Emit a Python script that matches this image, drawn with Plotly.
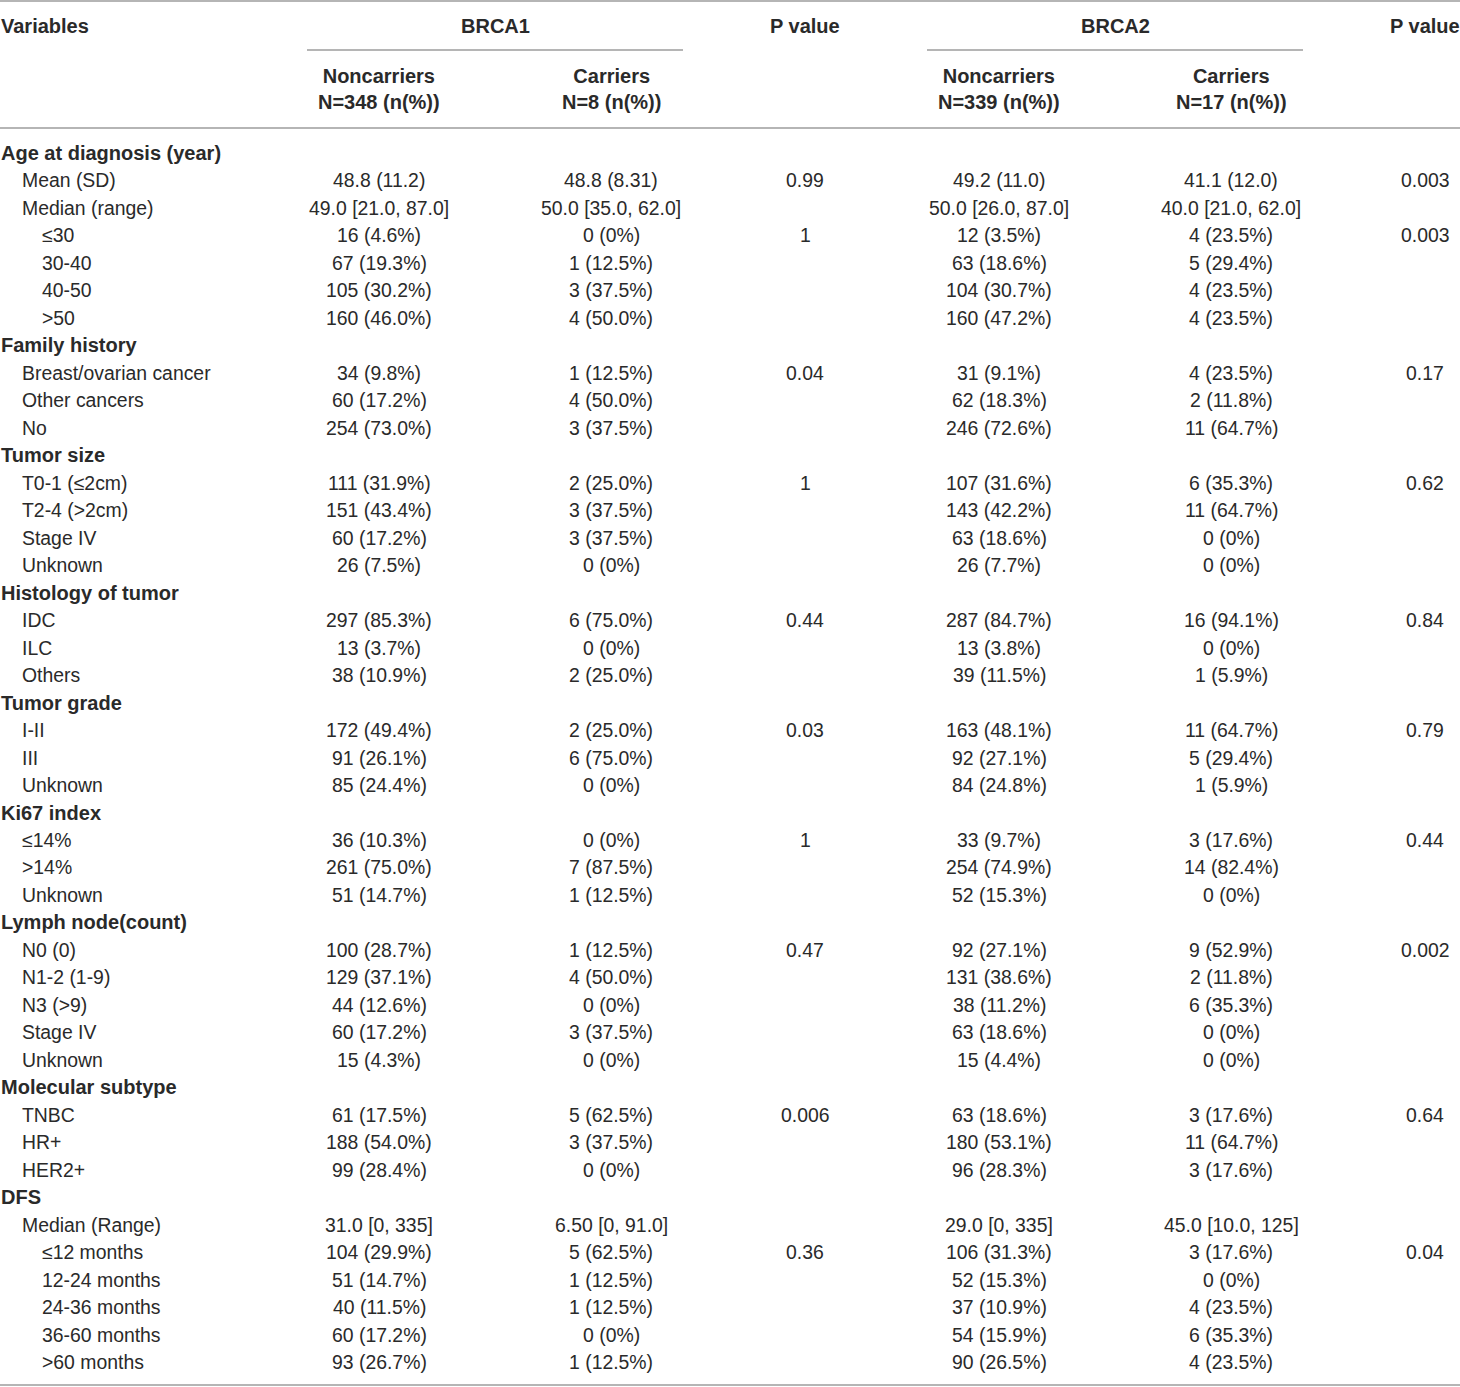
import plotly.graph_objects as go

# ---------------- data ----------------
header_groups = ["BRCA1", "BRCA2"]
col_headers = ["Noncarriers<br>N=348 (n(%))", "Carriers<br>N=8 (n(%))", "P value",
               "Noncarriers<br>N=339 (n(%))", "Carriers<br>N=17 (n(%))", "P value"]

labels = [
    "Age at diagnosis (year)", "Mean (SD)", "Median (range)", "≤30", "30-40", "40-50", ">50",
    "Family history", "Breast/ovarian cancer", "Other cancers", "No",
    "Tumor size", "T0-1 (≤2cm)", "T2-4 (>2cm)", "Stage IV", "Unknown",
    "Histology of tumor", "IDC", "ILC", "Others",
    "Tumor grade", "I-II", "III", "Unknown",
    "Ki67 index", "≤14%", ">14%", "Unknown",
    "Lymph node(count)", "N0 (0)", "N1-2 (1-9)", "N3 (>9)", "Stage IV", "Unknown",
    "Molecular subtype", "TNBC", "HR+", "HER2+",
    "DFS", "Median (Range)", "≤12 months", "12-24 months", "24-36 months", "36-60 months", ">60 months",
]
levels = [
    0, 1, 1, 2, 2, 2, 2,
    0, 1, 1, 1,
    0, 1, 1, 1, 1,
    0, 1, 1, 1,
    0, 1, 1, 1,
    0, 1, 1, 1,
    0, 1, 1, 1, 1, 1,
    0, 1, 1, 1,
    0, 1, 2, 2, 2, 2, 2,
]
brca1_non = [
    "", "48.8 (11.2)", "49.0 [21.0, 87.0]", "16 (4.6%)", "67 (19.3%)", "105 (30.2%)", "160 (46.0%)",
    "", "34 (9.8%)", "60 (17.2%)", "254 (73.0%)",
    "", "111 (31.9%)", "151 (43.4%)", "60 (17.2%)", "26 (7.5%)",
    "", "297 (85.3%)", "13 (3.7%)", "38 (10.9%)",
    "", "172 (49.4%)", "91 (26.1%)", "85 (24.4%)",
    "", "36 (10.3%)", "261 (75.0%)", "51 (14.7%)",
    "", "100 (28.7%)", "129 (37.1%)", "44 (12.6%)", "60 (17.2%)", "15 (4.3%)",
    "", "61 (17.5%)", "188 (54.0%)", "99 (28.4%)",
    "", "31.0 [0, 335]", "104 (29.9%)", "51 (14.7%)", "40 (11.5%)", "60 (17.2%)", "93 (26.7%)",
]
brca1_car = [
    "", "48.8 (8.31)", "50.0 [35.0, 62.0]", "0 (0%)", "1 (12.5%)", "3 (37.5%)", "4 (50.0%)",
    "", "1 (12.5%)", "4 (50.0%)", "3 (37.5%)",
    "", "2 (25.0%)", "3 (37.5%)", "3 (37.5%)", "0 (0%)",
    "", "6 (75.0%)", "0 (0%)", "2 (25.0%)",
    "", "2 (25.0%)", "6 (75.0%)", "0 (0%)",
    "", "0 (0%)", "7 (87.5%)", "1 (12.5%)",
    "", "1 (12.5%)", "4 (50.0%)", "0 (0%)", "3 (37.5%)", "0 (0%)",
    "", "5 (62.5%)", "3 (37.5%)", "0 (0%)",
    "", "6.50 [0, 91.0]", "5 (62.5%)", "1 (12.5%)", "1 (12.5%)", "0 (0%)", "1 (12.5%)",
]
p_brca1 = [
    "", "0.99", "", "1", "", "", "",
    "", "0.04", "", "",
    "", "1", "", "", "",
    "", "0.44", "", "",
    "", "0.03", "", "",
    "", "1", "", "",
    "", "0.47", "", "", "", "",
    "", "0.006", "", "",
    "", "", "0.36", "", "", "", "",
]
brca2_non = [
    "", "49.2 (11.0)", "50.0 [26.0, 87.0]", "12 (3.5%)", "63 (18.6%)", "104 (30.7%)", "160 (47.2%)",
    "", "31 (9.1%)", "62 (18.3%)", "246 (72.6%)",
    "", "107 (31.6%)", "143 (42.2%)", "63 (18.6%)", "26 (7.7%)",
    "", "287 (84.7%)", "13 (3.8%)", "39 (11.5%)",
    "", "163 (48.1%)", "92 (27.1%)", "84 (24.8%)",
    "", "33 (9.7%)", "254 (74.9%)", "52 (15.3%)",
    "", "92 (27.1%)", "131 (38.6%)", "38 (11.2%)", "63 (18.6%)", "15 (4.4%)",
    "", "63 (18.6%)", "180 (53.1%)", "96 (28.3%)",
    "", "29.0 [0, 335]", "106 (31.3%)", "52 (15.3%)", "37 (10.9%)", "54 (15.9%)", "90 (26.5%)",
]
brca2_car = [
    "", "41.1 (12.0)", "40.0 [21.0, 62.0]", "4 (23.5%)", "5 (29.4%)", "4 (23.5%)", "4 (23.5%)",
    "", "4 (23.5%)", "2 (11.8%)", "11 (64.7%)",
    "", "6 (35.3%)", "11 (64.7%)", "0 (0%)", "0 (0%)",
    "", "16 (94.1%)", "0 (0%)", "1 (5.9%)",
    "", "11 (64.7%)", "5 (29.4%)", "1 (5.9%)",
    "", "3 (17.6%)", "14 (82.4%)", "0 (0%)",
    "", "9 (52.9%)", "2 (11.8%)", "6 (35.3%)", "0 (0%)", "0 (0%)",
    "", "3 (17.6%)", "11 (64.7%)", "3 (17.6%)",
    "", "45.0 [10.0, 125]", "3 (17.6%)", "0 (0%)", "4 (23.5%)", "6 (35.3%)", "4 (23.5%)",
]
p_brca2 = [
    "", "0.003", "", "0.003", "", "", "",
    "", "0.17", "", "",
    "", "0.62", "", "", "",
    "", "0.84", "", "",
    "", "0.79", "", "",
    "", "0.44", "", "",
    "", "0.002", "", "", "", "",
    "", "0.64", "", "",
    "", "", "0.04", "", "", "", "",
]

# ---------------- layout constants ----------------
W, H = 1460, 1387
FONT = "Liberation Sans"
REG = 19.4
BOLD = 20
TXT = "#2a2a2a"
LINE = "#9c9c9c"

row0, pitch = 153.0, 27.48
col_x = [379, 611, 805, 999, 1231, 1425]
group_x = [495, 1115]
indent = [0, 21, 41]

columns = [brca1_non, brca1_car, p_brca1, brca2_non, brca2_car, p_brca2]

ann = []
# header
ann.append(dict(x=0, y=26, text="<b>Variables</b>", xanchor="left", yanchor="middle",
                font=dict(family=FONT, size=BOLD, color=TXT)))
for gx, g in zip(group_x, header_groups):
    ann.append(dict(x=gx, y=26, text=f"<b>{g}</b>", xanchor="center", yanchor="middle",
                    font=dict(family=FONT, size=BOLD, color=TXT)))
for cx, h in zip(col_x, col_headers):
    if h == "P value":
        ann.append(dict(x=cx, y=26, text="<b>P value</b>", xanchor="center", yanchor="middle",
                        font=dict(family=FONT, size=BOLD, color=TXT)))
    else:
        ann.append(dict(x=cx, y=89, text="<b>" + h.replace("<br>", "</b><br><b>") + "</b>",
                        xanchor="center", yanchor="middle", align="center",
                        font=dict(family=FONT, size=BOLD, color=TXT)))

# body
for i, (lab, lev) in enumerate(zip(labels, levels)):
    y = row0 + pitch * i
    if lev == 0:
        ann.append(dict(x=0, y=y, text=f"<b>{lab}</b>", xanchor="left", yanchor="middle",
                        font=dict(family=FONT, size=BOLD, color=TXT)))
    else:
        ann.append(dict(x=indent[lev], y=y, text=lab, xanchor="left", yanchor="middle",
                        font=dict(family=FONT, size=REG, color=TXT)))
    for cx, col in zip(col_x, columns):
        if col[i]:
            ann.append(dict(x=cx, y=y, text=col[i], xanchor="center", yanchor="middle",
                            font=dict(family=FONT, size=REG, color=TXT)))

for a in ann:
    a.update(xref="x", yref="y", showarrow=False, borderpad=0)

shapes = [
    dict(type="line", x0=0, x1=W, y0=1, y1=1),
    dict(type="line", x0=307, x1=683, y0=50, y1=50),
    dict(type="line", x0=927, x1=1303, y0=50, y1=50),
    dict(type="line", x0=0, x1=W, y0=128, y1=128),
    dict(type="line", x0=0, x1=W, y0=1385, y1=1385),
]
for s in shapes:
    s.update(xref="x", yref="y", line=dict(color=LINE, width=1.6))

fig = go.Figure()
fig.update_layout(
    width=W, height=H,
    margin=dict(l=0, r=0, t=0, b=0),
    paper_bgcolor="white", plot_bgcolor="white",
    xaxis=dict(range=[0, W], visible=False, fixedrange=True),
    yaxis=dict(range=[H, 0], visible=False, fixedrange=True),
    annotations=ann, shapes=shapes, showlegend=False,
)
fig.write_html(
    "out.html",
    config={"displayModeBar": False},
    post_script="document.body.style.margin='0';document.body.style.overflow='hidden';",
)
